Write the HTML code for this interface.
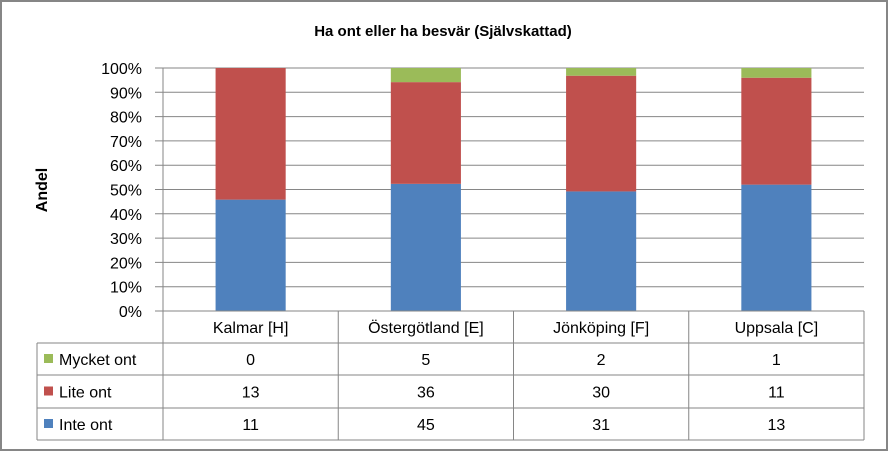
<!DOCTYPE html>
<html><head><meta charset="utf-8"><style>
body{margin:0;width:888px;height:451px;overflow:hidden;background:#fff;font-family:"Liberation Sans",sans-serif}
svg text{font-family:"Liberation Sans",sans-serif}
</style></head><body>
<svg id="c" width="888" height="451" xmlns="http://www.w3.org/2000/svg">
<rect x="1" y="1" width="886" height="449" fill="#fff" stroke="#868686" stroke-width="2"/>
<text x="443" y="36" text-anchor="middle" font-size="15" font-weight="bold">Ha ont eller ha besvär (Självskattad)</text>
<text transform="translate(47,190) rotate(-90)" text-anchor="middle" font-size="16" font-weight="bold">Andel</text>
<g id="grid"></g><g id="bars"></g><g id="table"></g>
</svg>
<script>
const categories=["Kalmar [H]","Östergötland [E]","Jönköping [F]","Uppsala [C]"];
const seriesNames=["Mycket ont","Lite ont","Inte ont"];
const mycketOnt=[0,5,2,1];
const liteOnt=[13,36,30,11];
const inteOnt=[11,45,31,13];
const yTicks=[0,10,20,30,40,50,60,70,80,90,100];
const colors={"Inte ont":"#4f81bd","Lite ont":"#c0504d","Mycket ont":"#9bbb59"};
const NS="http://www.w3.org/2000/svg";
const x0=163,x1=864,yTop=68,yBot=311;
const cw=(x1-x0)/categories.length;
const y=v=>yBot-(yBot-yTop)*v/100;
function mk(t,a,p){const e=document.createElementNS(NS,t);for(const k in a)e.setAttribute(k,a[k]);p.appendChild(e);return e;}
const grid=document.getElementById('grid');
yTicks.forEach(t=>{
 const l=mk('line',{x1:155,x2:x1,y1:y(t),y2:y(t),stroke:'#868686','stroke-width':1},grid);
 
 
 const tx=mk('text',{x:142,y:y(t)+6,'text-anchor':'end','font-size':16},grid);
 tx.textContent=t+'%';
 
 
});
const ax=mk('line',{x1:x0,x2:x0,y1:yTop,y2:yBot,stroke:'#868686'},grid);


const bars=document.getElementById('bars');
categories.forEach((c,i)=>{
 const tot=mycketOnt[i]+liteOnt[i]+inteOnt[i];
 const segs=[["Inte ont",inteOnt[i]],["Lite ont",liteOnt[i]],["Mycket ont",mycketOnt[i]]];
 let acc=0;const bw=cw*0.4,bx=x0+cw*i+(cw-bw)/2;
 segs.forEach(([n,v])=>{
  const p=v/tot*100;
  if(p>0){const r=mk('rect',{x:bx,y:y(acc+p),width:bw,height:y(acc)-y(acc+p),fill:colors[n]},bars);
  
  }
  acc+=p;
 });
});
const tb=document.getElementById('table');
const rows=[343,375,408,440];
const L=37;
[[x0,yBot,x1,yBot],[x0,yBot,x0,440],[L,343,x1,343],[L,375,x1,375],[L,408,x1,408],[L,440,x1,440],[L,343,L,440]].forEach(a=>{
 const l=mk('line',{x1:a[0],y1:a[1],x2:a[2],y2:a[3],stroke:'#868686'},tb);
 
 
});
categories.forEach((c,i)=>{
 const l=mk('line',{x1:x0+cw*(i+1),x2:x0+cw*(i+1),y1:yBot,y2:440,stroke:'#868686'},tb);
 
 
 const t=mk('text',{x:x0+cw*(i+0.5),y:333,'text-anchor':'middle','font-size':16},tb);
 t.textContent=c;
 
 
});
const vals=[mycketOnt,liteOnt,inteOnt];
seriesNames.forEach((n,r)=>{
 const cy=(rows[r]+rows[r+1])/2;
 const s=mk('rect',{x:44,y:cy-5,width:9,height:9,fill:colors[n]},tb);
 
 
 const t=mk('text',{x:59,y:cy+6,'font-size':16},tb);
 t.textContent=n;
 
 
 vals[r].forEach((v,i)=>{
  const d=mk('text',{x:x0+cw*(i+0.5),y:cy+6,'text-anchor':'middle','font-size':16},tb);
  d.textContent=v;
  
  
 });
});
</script>
</body></html>
